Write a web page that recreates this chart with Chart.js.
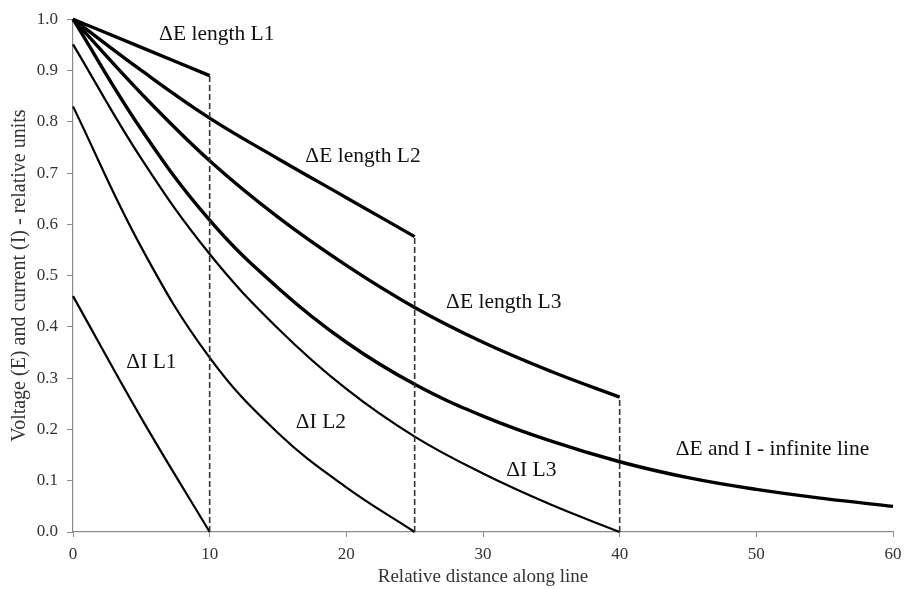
<!DOCTYPE html>
<html>
<head>
<meta charset="utf-8">
<script src="https://cdn.jsdelivr.net/npm/chart.js@4.4.0/dist/chart.umd.min.js"></script>
<style>
  html, body { margin: 0; padding: 0; background: #fff; }
  #wrap { width: 912px; height: 589px; }
</style>
</head>
<body>
<div id="wrap"><canvas id="chart"></canvas></div>
<script>
// distance along the line, shared by every series
const distance = [0, 5, 10, 15, 20, 25, 30, 35, 40, 45, 50, 55, 60]

// voltage curves
const deltaE_L1 = [1.0, 0.945, 0.89]
const deltaE_L2 = [1.0, 0.90, 0.807, 0.728, 0.652, 0.576]
const deltaE_L3 = [1.0, 0.855, 0.724, 0.614, 0.52, 0.438, 0.37, 0.313, 0.263]
const deltaE_inf = [1.0, 0.785, 0.608, 0.476, 0.37, 0.288, 0.226, 0.177, 0.137, 0.106, 0.083, 0.065, 0.05]

// current curves
const deltaI_L1 = [0.46, 0.222, 0]
const deltaI_L2 = [0.83, 0.555, 0.34, 0.193, 0.087, 0]
const deltaI_L3 = [0.951, 0.728, 0.542, 0.397, 0.279, 0.186, 0.114, 0.053, 0]

// text written on the plot, placed in data units
const curveLabels = [
    { text: 'ΔE length L1', x: 6.3, y: 0.97 },
    { text: 'ΔE length L2', x: 17.0, y: 0.733 },
    { text: 'ΔE length L3', x: 27.3, y: 0.447 },
    { text: 'ΔE and I - infinite line', x: 44.1, y: 0.162 },
    { text: 'ΔI L1', x: 3.9, y: 0.331 },
    { text: 'ΔI L2', x: 16.3, y: 0.214 },
    { text: 'ΔI L3', x: 31.7, y: 0.121 },
]

const serif = '"Times New Roman", "Liberation Serif", serif'
const axisGray = '#8c8c8c'

const points = values => values.map((v, i) => ({ x: distance[i], y: v }))
const lastOf = values => values[values.length - 1]
const endLine = values => {
    const x = distance[values.length - 1]
    return [{ x, y: 0 }, { x, y: lastOf(values) }]
}

const curve = (values, width) => ({
    data: points(values),
    borderColor: '#000',
    borderWidth: width,
    pointRadius: 0,
    tension: 0.4,
    clip: false,
})

const dashed = values => ({
    data: endLine(values),
    borderColor: '#333',
    borderWidth: 1.6,
    borderDash: [6, 3],
    pointRadius: 0,
    clip: false,
})

const labelPlugin = {
    id: 'curveLabels',
    afterDatasetsDraw(chart) {
        const { ctx, scales } = chart
        ctx.save()
        ctx.font = '21.5px ' + serif
        ctx.fillStyle = '#111'
        ctx.textAlign = 'left'
        ctx.textBaseline = 'middle'
        curveLabels.forEach(l => {
            ctx.fillText(l.text, scales.x.getPixelForValue(l.x), scales.y.getPixelForValue(l.y))
        })
        ctx.restore()
    }
}

new Chart(document.getElementById('chart'), {
    type: 'line',
    data: {
        datasets: [
            dashed(deltaE_L1),
            dashed(deltaE_L2),
            dashed(deltaE_L3),
            curve(deltaI_L1, 2.2),
            curve(deltaI_L2, 2.2),
            curve(deltaI_L3, 2.2),
            curve(deltaE_inf, 3.4),
            curve(deltaE_L3, 3.4),
            curve(deltaE_L2, 3.4),
            curve(deltaE_L1, 3.4),
        ]
    },
    options: {
        responsive: true,
        maintainAspectRatio: false,
        animation: false,
        layout: { padding: { top: 17, right: 19, left: 0, bottom: 0 } },
        plugins: {
            legend: { display: false },
            tooltip: { enabled: false },
        },
        scales: {
            x: {
                type: 'linear',
                min: 0,
                max: 60,
                afterFit: s => { s.height = 57 },
                border: { color: axisGray, width: 1.2 },
                grid: { drawOnChartArea: false, color: axisGray, tickLength: 5 },
                ticks: { stepSize: 10, padding: 7, color: '#333', font: { family: serif, size: 17 } },
                title: {
                    display: true,
                    text: 'Relative distance along line',
                    color: '#333',
                    font: { family: serif, size: 19 },
                    padding: { top: 0, bottom: 1 },
                },
            },
            y: {
                min: 0,
                max: 1,
                afterFit: s => { s.width = 73 },
                border: { color: axisGray, width: 1.2 },
                grid: { drawOnChartArea: false, color: axisGray, tickLength: 6 },
                ticks: {
                    stepSize: 0.1,
                    padding: 9,
                    color: '#333',
                    font: { family: serif, size: 17 },
                    callback: v => v.toFixed(1),
                },
                title: {
                    display: true,
                    text: 'Voltage (E) and current (I) - relative units',
                    color: '#333',
                    font: { family: serif, size: 20 },
                    padding: { top: 8, bottom: 0 },
                },
            },
        },
    },
    plugins: [labelPlugin],
})
</script>
</body>
</html>
